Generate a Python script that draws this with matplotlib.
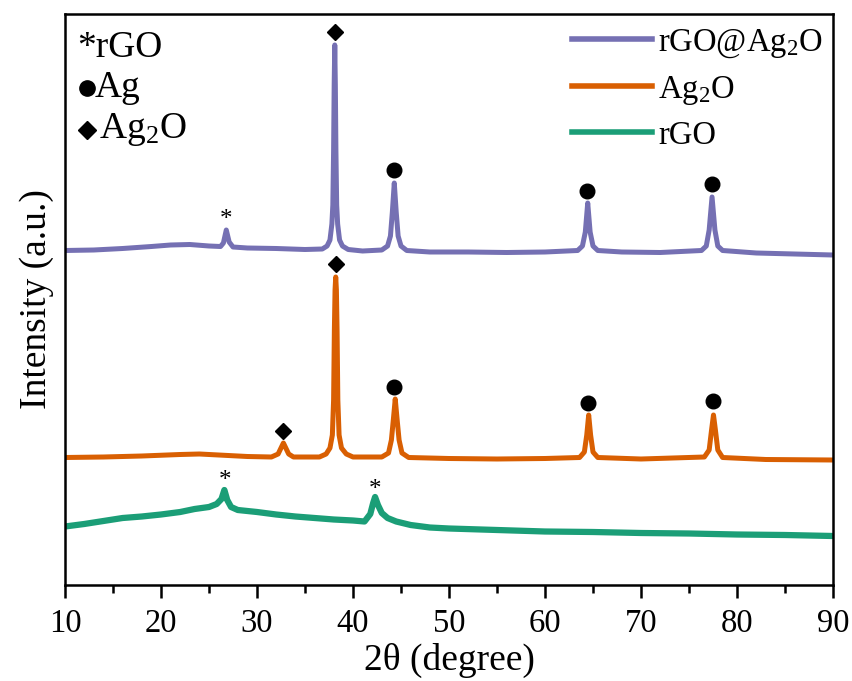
import numpy as np
import matplotlib
matplotlib.use("Agg")
import matplotlib.pyplot as plt
from matplotlib.ticker import MultipleLocator

plt.rcParams['font.family'] = ['Liberation Serif', 'DejaVu Sans']
plt.rcParams['mathtext.fontset'] = 'custom'
plt.rcParams['mathtext.rm'] = 'Liberation Serif'
plt.rcParams['mathtext.default'] = 'regular'

# curves: 2theta (deg) and height in pixels from the top of the figure
# (converted to intensity = 585 - px so the axis runs 0..571)
comp_x = [10, 13, 16, 19, 21, 23, 25, 26.2, 26.5, 26.8, 27.1, 27.5, 29, 32, 35, 36.8, 37.3, 37.6,
          37.8, 37.9, 37.98, 38.04, 38.1, 38.16, 38.22, 38.3, 38.4, 38.6, 38.9, 39.5, 41, 43, 43.6,
          43.9, 44.1, 44.3, 44.5, 44.7, 45.0, 45.6, 48, 52, 56, 60, 63.4, 63.9, 64.2, 64.45, 64.7,
          65.0, 65.5, 68, 72, 76.3, 76.8, 77.1, 77.4, 77.7, 78.0, 78.5, 82, 86, 90]
comp_px = [250.5, 250, 248.5, 246.5, 245, 244.5, 246, 246.5, 243, 230, 242, 247, 248, 248.5, 249.5,
           249, 246, 240, 224, 205, 150, 85, 45, 85, 150, 205, 224, 240, 246, 249.5, 251, 250, 246,
           236, 212, 183, 212, 236, 246, 250.5, 252, 252, 252.5, 252, 250.5, 246, 232, 203, 232,
           246, 250.5, 252, 252.5, 250.5, 246, 230, 197, 230, 246, 250.5, 253, 254, 255]

ag2o_x = [10, 14, 18, 22, 24, 26, 29, 31.5, 32.2, 32.5, 32.75, 33.0, 33.3, 33.8, 36.5, 37.2, 37.6,
          37.85, 37.98, 38.06, 38.13, 38.2, 38.27, 38.34, 38.42, 38.55, 38.8, 39.3, 40, 43, 43.7,
          44.0, 44.2, 44.4, 44.6, 44.8, 45.1, 45.8, 50, 55, 60, 63.6, 64.1, 64.35, 64.55, 64.75,
          65.0, 65.5, 70, 76.6, 77.1, 77.35, 77.55, 77.75, 78.0, 78.5, 83, 90]
ag2o_px = [457.5, 457, 456, 454.5, 454, 455, 456.5, 457, 454, 448, 443, 448, 454, 457, 457, 454,
           448, 435, 400, 330, 290, 277, 290, 330, 400, 435, 448, 454, 457, 457, 453, 440, 420,
           399, 420, 440, 453, 457.5, 458.5, 459, 458.5, 457.5, 452, 435, 415, 435, 452, 457.5,
           459, 457, 450, 430, 415, 430, 450, 457.5, 459.5, 460]

rgo_x = [10, 12, 14, 16, 18, 20, 22, 23.5, 25, 25.8, 26.3, 26.6, 26.9, 27.3, 28, 30, 32, 34, 36,
         38, 40, 41.2, 41.8, 42.1, 42.3, 42.6, 43.0, 43.6, 44.5, 46, 48, 50, 55, 60, 65, 70, 75,
         80, 85, 90]
rgo_px = [526.5, 524, 521, 518, 516.5, 514.5, 512, 509, 507, 504, 499, 490, 500, 507, 510, 512,
          514.5, 516.5, 518, 519.5, 520.5, 521.5, 514, 503, 497, 505, 513, 518, 521.5, 525, 527.5,
          528.5, 530, 531.5, 532, 533, 533.5, 534.5, 535, 536]

# peak marks: (2theta, px)
star_marks = [(26.8, 220), (26.7, 481), (42.3, 490)]
dot_marks = [(44.3, 170), (64.4, 191), (77.4, 184), (44.3, 387), (64.5, 403), (77.5, 401)]
diamond_marks = [(38.1, 32), (38.2, 264), (32.7, 431)]

labels = ['rGO@Ag$_2$O', 'Ag$_2$O', 'rGO']
colors = ['#7570b3', '#d95f02', '#1b9e77']

W, H = 852, 681
BASE = 585


def to_int(px):
    return BASE - np.asarray(px, dtype=float)


fig = plt.figure(figsize=(W / 100, H / 100), dpi=100)
ax = fig.add_axes([65 / W, 96 / H, 768 / W, 571 / H])

ax.plot(comp_x, to_int(comp_px), color=colors[0], lw=3.6, label=labels[0], solid_joinstyle='round')
ax.plot(ag2o_x, to_int(ag2o_px), color=colors[1], lw=3.6, label=labels[1], solid_joinstyle='round')
ax.plot(rgo_x, to_int(rgo_px), color=colors[2], lw=4.5, label=labels[2], solid_joinstyle='round')

for x, y in star_marks:
    ax.text(x, BASE - y, '*', fontsize=18, ha='center', va='center')
ax.plot([m[0] for m in dot_marks], to_int([m[1] for m in dot_marks]), 'o', color='black',
        ms=10.5, ls='none')
ax.plot([m[0] for m in diamond_marks], to_int([m[1] for m in diamond_marks]), 'D', color='black',
        ms=8.5, ls='none')

# phase key, top left (figure pixel positions)
fig.text(77 / W, 1 - 48 / H, '*rGO', fontsize=27, va='center', ha='left')
fig.text(95 / W, 1 - 88 / H, 'Ag', fontsize=27, va='center', ha='left')
fig.text(99 / W, 1 - 130 / H, 'Ag$_2$O', fontsize=27, va='center', ha='left')
ax.plot([87 / W], [1 - 88 / H], 'o', color='black', ms=11, transform=fig.transFigure, clip_on=False)
ax.plot([87 / W], [1 - 130 / H], 'D', color='black', ms=9.5, transform=fig.transFigure, clip_on=False)

ax.set_xlim(10, 90)
ax.set_ylim(0, 571)
ax.xaxis.set_major_locator(MultipleLocator(10))
ax.xaxis.set_minor_locator(MultipleLocator(5))
ax.tick_params(axis='x', which='major', direction='out', length=9, width=1.8, labelsize=23.5, pad=8)
ax.tick_params(axis='x', which='minor', direction='out', length=6, width=1.8)
ax.set_yticks([])
for s in ax.spines.values():
    s.set_linewidth(1.8)

ax.set_xlabel('2\u03b8 (degree)', fontsize=27, labelpad=3)
ax.set_ylabel('Intensity (a.u.)', fontsize=27, labelpad=8)

leg = ax.legend(loc='upper right', frameon=False, fontsize=23.5, handlelength=2.45,
                handletextpad=0.2, labelspacing=0.42, borderaxespad=0.0,
                bbox_to_anchor=(836 / W, 1 - 14 / H), bbox_transform=fig.transFigure)
for line in leg.get_lines():
    line.set_linewidth(4)

fig.savefig('out.png', dpi=100)
